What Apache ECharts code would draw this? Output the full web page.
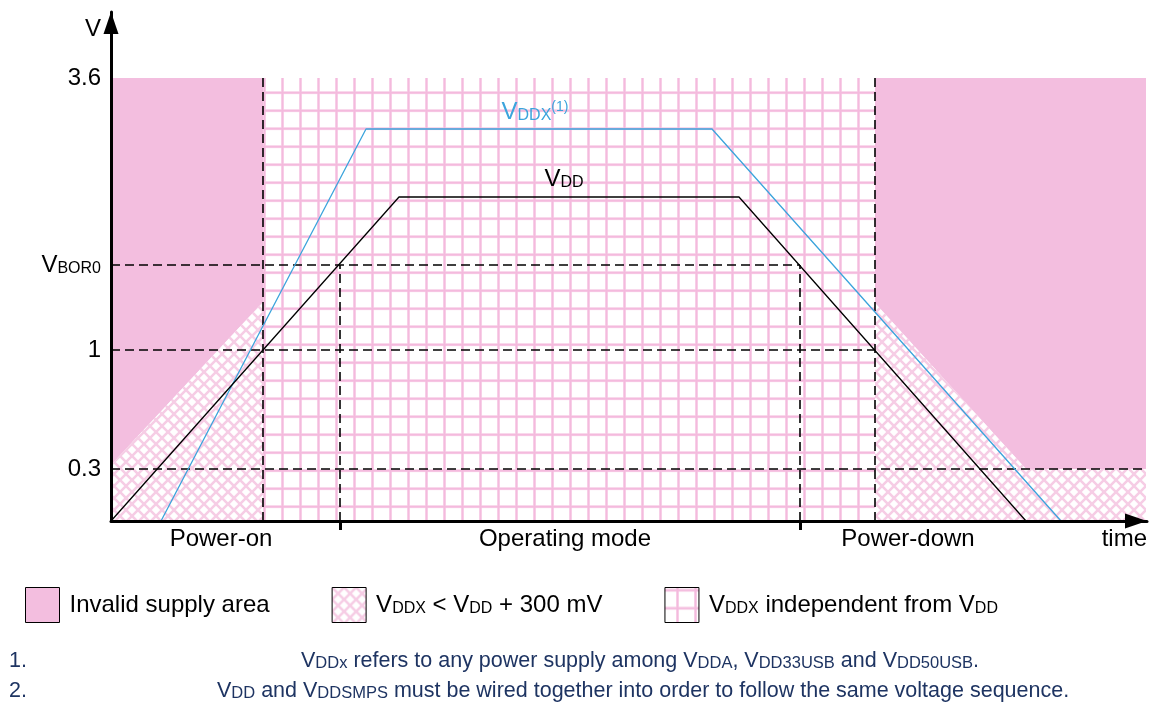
<!DOCTYPE html>
<html>
<head>
<meta charset="utf-8">
<title>Power-up / power-down sequence</title>
<script src="https://cdn.jsdelivr.net/npm/echarts@6/dist/echarts.min.js"></script>
<style>
  html, body { margin: 0; padding: 0; background: #fff; }
  #chart { width: 1155px; height: 704px; }
</style>
</head>
<body>
<div id="chart"></div>
<script>
// time is in arbitrary units from the start, voltage in drawing units (not linear in volts)
const levelValues = [52, 171, 256, 443];
const levelLabels = ['0.3', '1', 'VBOR0', '3.6'];

const phaseBounds = [152, 229, 689, 764]; // end power-on, VBOR0 up, VBOR0 down, start power-down
const phaseLabelPos = [110, 454, 797];
const phaseLabels = ['Power-on', 'Operating mode', 'Power-down'];

const vddTime = [0, 288, 628, 915];
const vddLevel = [0, 324, 324, 0];
const vddxTime = [50, 255, 601, 950];
const vddxLevel = [0, 392, 392, 0];

const vddLabelAt = [453, 342];
const vddxLabelAt = [424, 409];

// outlines of the shaded areas, [time, level]
const invalidAreas = [
  [[0, 443], [152, 443], [152, 219], [0, 56]],
  [[764, 443], [1035, 443], [1035, 52], [915, 52], [764, 218]]
];
const hatchAreas = [
  [[0, 0], [152, 0], [152, 219], [0, 56]],
  [[764, 0], [1035, 0], [1035, 52], [915, 52], [764, 218]]
];
const freeAreas = [
  [[152, 0], [764, 0], [764, 443], [152, 443]]
];

const legendNames = ['Invalid supply area', 'VDDX < VDD + 300 mV', 'VDDX independent from VDD'];

const FONT = 'Liberation Sans, Arial, sans-serif';

function gridTile() {
  const c = document.createElement('canvas');
  c.width = 18; c.height = 18;
  const ctx = c.getContext('2d');
  ctx.fillStyle = '#ffffff';
  ctx.fillRect(0, 0, 18, 18);
  ctx.fillStyle = '#fbe2f1';
  ctx.fillRect(11, 0, 3, 18);
  ctx.fillRect(0, 1.2, 18, 3);
  ctx.fillStyle = '#f4badd';
  ctx.fillRect(11.5, 0, 2, 18);
  ctx.fillRect(0, 1.7, 18, 2);
  return c;
}

function hatchTile() {
  const s = 12;
  const c = document.createElement('canvas');
  c.width = s; c.height = s;
  const ctx = c.getContext('2d');
  ctx.fillStyle = '#ffffff';
  ctx.fillRect(0, 0, s, s);
  ctx.strokeStyle = '#f6cde5';
  ctx.lineWidth = 2.6;
  ctx.beginPath();
  ctx.moveTo(-1, -1); ctx.lineTo(s + 1, s + 1);
  ctx.moveTo(s + 1, -1); ctx.lineTo(-1, s + 1);
  ctx.stroke();
  return c;
}

const invalidFill = '#f3bedf';
const hatchFill = { image: hatchTile(), repeat: 'repeat' };
const gridFill = { image: gridTile(), repeat: 'repeat' };

function areaSeries(name, shapes, fill) {
  return {
    name: name,
    type: 'custom',
    coordinateSystem: 'cartesian2d',
    silent: true,
    z: 1,
    itemStyle: { color: fill },
    data: shapes.map(function (s) { return s[0]; }),
    renderItem: function (params, api) {
      const pts = shapes[params.dataIndex].map(function (p) { return api.coord(p); });
      return { type: 'polygon', shape: { points: pts }, style: { fill: fill } };
    }
  };
}

function pairs(xs, ys) {
  return xs.map(function (x, i) { return [x, ys[i]]; });
}

const smallCaps = {
  v: { fontSize: 24, lineHeight: 24, verticalAlign: 'bottom', fontFamily: FONT },
  s: { fontSize: 16, lineHeight: 18, verticalAlign: 'bottom', fontFamily: FONT },
  m: { fontSize: 24, lineHeight: 24, verticalAlign: 'bottom', fontFamily: FONT },
  p: { fontSize: 14, lineHeight: 14, verticalAlign: 'top', fontFamily: FONT }
};

const dash = { type: [9, 5], color: '#000', width: 1.6 };
const hLine = function (y, x1) { return [{ coord: [0, y] }, { coord: [x1, y] }]; };
const vLine = function (x, y1) { return [{ coord: [x, 0] }, { coord: [x, y1] }]; };

const noteStyle = {
  m: { fontSize: 21.5, lineHeight: 21, verticalAlign: 'bottom', fontFamily: FONT, fill: '#1e3462' },
  b: { fontSize: 16.5, lineHeight: 9, verticalAlign: 'bottom', fontFamily: FONT, fill: '#1e3462' }
};

const chart = echarts.init(document.getElementById('chart'));

chart.setOption({
  backgroundColor: '#fff',
  animation: false,
  grid: { left: 111, right: 8, top: 12, bottom: 183, outerBoundsMode: 'none' },
  legend: {
    left: 25, top: 587, padding: 0,
    icon: 'rect',
    itemWidth: 34, itemHeight: 35, itemGap: 62,
    selectedMode: false,
    data: legendNames,
    itemStyle: { borderColor: '#000', borderWidth: 1 },
    textStyle: { color: '#000', fontFamily: FONT, fontSize: 24, padding: [0, 0, 0, 5], rich: smallCaps },
    formatter: function (name) {
      if (name === legendNames[0]) return '{m|Invalid supply area}';
      if (name === legendNames[1]) return '{v|V}{s|DDX}{m| < }{v|V}{s|DD}{m| + 300 mV}';
      return '{v|V}{s|DDX}{m| independent from }{v|V}{s|DD}';
    }
  },
  xAxis: {
    type: 'value', min: 0, max: 1036, z: 10,
    name: 'time', nameLocation: 'end', nameGap: 0,
    nameTextStyle: { color: '#000', fontFamily: FONT, fontSize: 24, align: 'right', verticalAlign: 'top', padding: [6, 0, 0, 0] },
    splitLine: { show: false },
    axisLine: {
      lineStyle: { color: '#000', width: 3 },
      symbol: ['none', 'triangle'], symbolSize: [15, 22], symbolOffset: [0, -11]
    },
    axisTick: { show: true, customValues: [phaseBounds[1], phaseBounds[2]], length: 9, lineStyle: { color: '#000', width: 3 } },
    axisLabel: {
      customValues: phaseLabelPos, margin: 6,
      color: '#000', fontFamily: FONT, fontSize: 24,
      formatter: function (v) { return phaseLabels[phaseLabelPos.indexOf(v)] || ''; }
    }
  },
  yAxis: {
    type: 'value', min: 0, max: 509, z: 10,
    name: 'V', nameLocation: 'end', nameGap: -17,
    nameTextStyle: { color: '#000', fontFamily: FONT, fontSize: 24, align: 'right', verticalAlign: 'middle', padding: [0, 10, 0, 0] },
    splitLine: { show: false },
    axisLine: {
      lineStyle: { color: '#000', width: 3 },
      symbol: ['none', 'triangle'], symbolSize: [15, 22], symbolOffset: [0, -11]
    },
    axisTick: { show: false },
    axisLabel: {
      customValues: levelValues, margin: 10,
      color: '#000', fontFamily: FONT, fontSize: 24,
      rich: smallCaps,
      formatter: function (v) {
        const t = levelLabels[levelValues.indexOf(v)] || '';
        return t === 'VBOR0' ? '{v|V}{s|BOR0}' : t;
      }
    }
  },
  series: [
    areaSeries(legendNames[0], invalidAreas, invalidFill),
    areaSeries(legendNames[1], hatchAreas, hatchFill),
    areaSeries(legendNames[2], freeAreas, gridFill),
    {
      name: 'VDDX', type: 'line', z: 5, silent: true,
      data: pairs(vddxTime, vddxLevel),
      symbol: 'none',
      lineStyle: { color: '#3ba4dc', width: 1.3 },
      markPoint: {
        silent: true, symbol: 'circle', symbolSize: 0,
        label: {
          show: true, position: 'inside', color: '#3ba4dc',
          rich: {
            v: { fontSize: 24, lineHeight: 24, verticalAlign: 'bottom', fontFamily: FONT, color: '#3ba4dc' },
            s: { fontSize: 16, lineHeight: 18, verticalAlign: 'bottom', fontFamily: FONT, color: '#3ba4dc' },
            p: { fontSize: 14, lineHeight: 14, verticalAlign: 'top', fontFamily: FONT, color: '#3ba4dc' }
          },
          formatter: '{v|V}{s|DDX}{p|(1)}'
        },
        data: [{ coord: vddxLabelAt }]
      }
    },
    {
      name: 'VDD', type: 'line', z: 6, silent: true,
      data: pairs(vddTime, vddLevel),
      symbol: 'none',
      lineStyle: { color: '#000', width: 1.3 },
      markPoint: {
        silent: true, symbol: 'circle', symbolSize: 0,
        label: {
          show: true, position: 'inside', color: '#000',
          rich: smallCaps,
          formatter: '{v|V}{s|DD}'
        },
        data: [{ coord: vddLabelAt }]
      },
      markLine: {
        silent: true, symbol: ['none', 'none'], label: { show: false },
        lineStyle: dash,
        data: [
          hLine(levelValues[2], phaseBounds[2]),
          hLine(levelValues[1], phaseBounds[3]),
          hLine(levelValues[0], 1035),
          vLine(phaseBounds[0], levelValues[3]),
          vLine(phaseBounds[3], levelValues[3]),
          vLine(phaseBounds[1], levelValues[2]),
          vLine(phaseBounds[2], levelValues[2])
        ]
      }
    }
  ],
  graphic: [
    { type: 'text', left: 9, top: 650, style: { text: '{m|1.}', rich: noteStyle } },
    { type: 'text', left: 9, top: 680, style: { text: '{m|2.}', rich: noteStyle } },
    {
      type: 'text', left: 301, top: 650,
      style: {
        rich: noteStyle,
        text: '{m|V}{b|DDx}{m| refers to any power supply among V}{b|DDA}{m|, V}{b|DD33USB}{m| and V}{b|DD50USB}{m|.}'
      }
    },
    {
      type: 'text', left: 217, top: 680,
      style: {
        rich: noteStyle,
        text: '{m|V}{b|DD}{m| and V}{b|DDSMPS}{m| must be wired together into order to follow the same voltage sequence.}'
      }
    }
  ]
});
</script>
</body>
</html>
